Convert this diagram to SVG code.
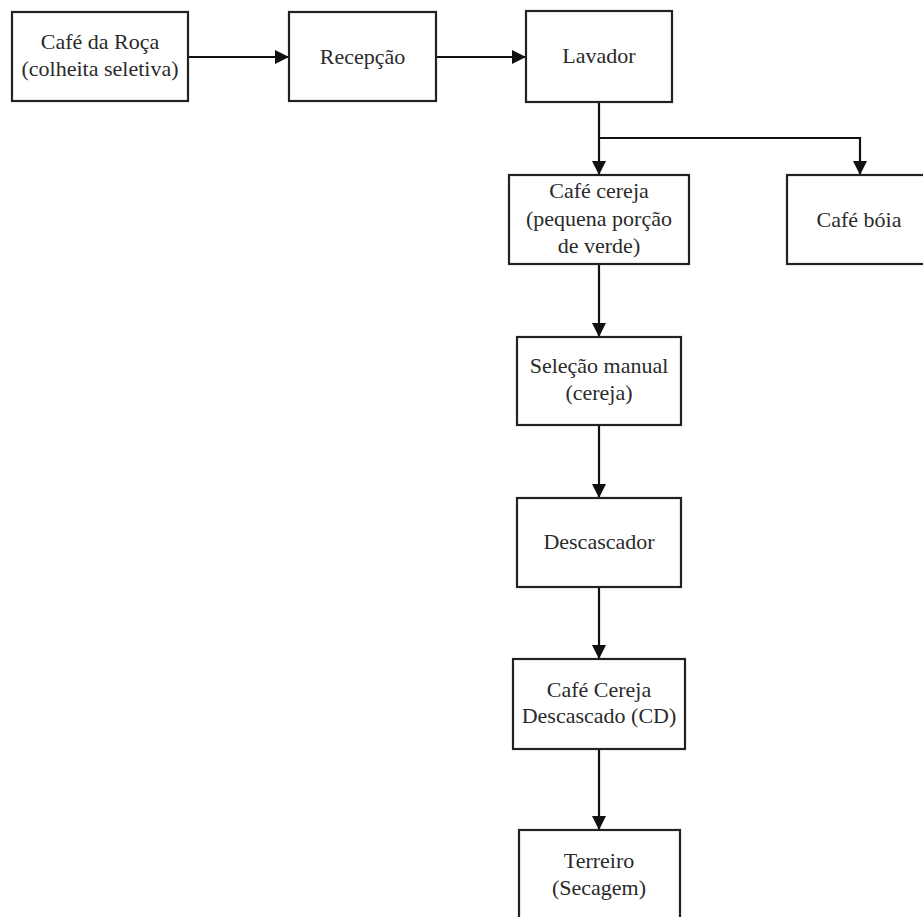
<svg xmlns="http://www.w3.org/2000/svg" width="923" height="917" viewBox="0 0 923 917">
<defs>
<marker id="ah" viewBox="0 0 14 14" refX="14" refY="7" markerWidth="14" markerHeight="14" markerUnits="userSpaceOnUse" orient="auto">
<path d="M0,0 L14,7 L0,14 Z" fill="#111"/>
</marker>
<style>
.box{fill:#fff;stroke:#222;stroke-width:2.2}
.t{font-family:"Liberation Serif","Times New Roman",serif;font-size:22px;fill:#2a2a2a;text-anchor:middle}
.c{fill:none;stroke:#111;stroke-width:2.2}
</style>
</defs>
<rect width="923" height="917" fill="#fff"/>
<g id="connectors">
<line class="c" x1="188" y1="57" x2="289" y2="57" marker-end="url(#ah)"/>
<line class="c" x1="436" y1="57" x2="526" y2="57" marker-end="url(#ah)"/>
<polyline class="c" points="599,102 599,138 599,175" marker-end="url(#ah)"/>
<polyline class="c" points="599,138 860,138 860,175" marker-end="url(#ah)"/>
<line class="c" x1="599" y1="264" x2="599" y2="337" marker-end="url(#ah)"/>
<line class="c" x1="599" y1="425" x2="599" y2="498" marker-end="url(#ah)"/>
<line class="c" x1="599" y1="587" x2="599" y2="659" marker-end="url(#ah)"/>
<line class="c" x1="599" y1="749" x2="599" y2="830" marker-end="url(#ah)"/>
</g>
<g id="cafe-roca">
<rect class="box" x="12" y="12" width="176" height="89"/>
<text class="t" x="100" y="49">Café da Roça</text>
<text class="t" x="100" y="76">(colheita seletiva)</text>
</g>
<g id="recepcao">
<rect class="box" x="289" y="12" width="147" height="89"/>
<text class="t" x="362.5" y="64">Recepção</text>
</g>
<g id="lavador">
<rect class="box" x="526" y="11" width="146" height="91"/>
<text class="t" x="599" y="63">Lavador</text>
</g>
<g id="cafe-cereja">
<rect class="box" x="509" y="175" width="180" height="89"/>
<text class="t" x="599" y="198">Café cereja</text>
<text class="t" x="599" y="226">(pequena porção</text>
<text class="t" x="599" y="253">de verde)</text>
</g>
<g id="cafe-boia">
<rect class="box" x="787" y="175" width="146" height="89"/>
<text class="t" x="859" y="227">Café bóia</text>
</g>
<g id="selecao">
<rect class="box" x="517" y="337" width="164" height="88"/>
<text class="t" x="599" y="373">Seleção manual</text>
<text class="t" x="599" y="400">(cereja)</text>
</g>
<g id="descascador">
<rect class="box" x="517" y="498" width="164" height="89"/>
<text class="t" x="599" y="549">Descascador</text>
</g>
<g id="cafe-cd">
<rect class="box" x="513" y="659" width="172" height="90"/>
<text class="t" x="599" y="697">Café Cereja</text>
<text class="t" x="599" y="723">Descascado (CD)</text>
</g>
<g id="terreiro">
<rect class="box" x="519" y="830" width="161" height="100"/>
<text class="t" x="599" y="868">Terreiro</text>
<text class="t" x="599" y="895">(Secagem)</text>
</g>
</svg>
